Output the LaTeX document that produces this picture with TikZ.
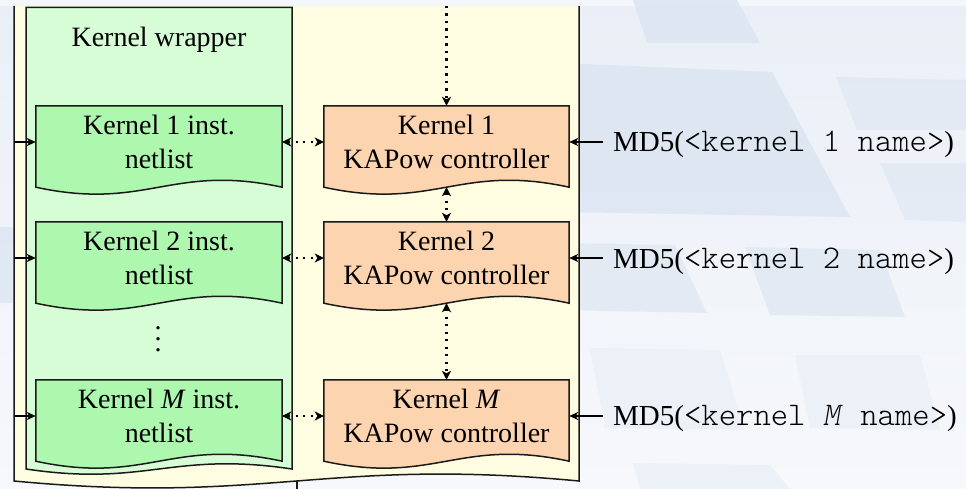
\documentclass[tikz,border=0pt]{standalone}
\usepackage{fontspec}
\setmainfont{Liberation Serif}
\setmonofont{lmmonolt10-regular.otf}[Scale=1.14, ItalicFont=lmmonolt10-oblique.otf]
\usetikzlibrary{arrows.meta,calc}

\pgfdeclarelayer{slide}
\pgfdeclarelayer{frame}
\pgfdeclarelayer{boxes}
\pgfsetlayers{slide,frame,boxes,main}

\definecolor{slidetop}{HTML}{EAEFF7}
\definecolor{slidebot}{HTML}{F6F8FB}
\definecolor{slideband}{HTML}{DCE5F2}
\definecolor{cream}{HTML}{FFFDE1}
\definecolor{wrapgreen}{HTML}{D7FDD7}
\definecolor{netgreen}{HTML}{AEF7AE}
\definecolor{peach}{HTML}{FDD4B0}
\definecolor{edge}{HTML}{1A1A1A}

% document-style box: flat top, wavy bottom hanging #3 below the node
\newcommand\docshape[4]{%
  \path[shapeline, fill=#2] let \p1=(#1.south west), \p2=(#1.north east) in
    (\x1,\y2) -- (\x2,\y2) -- (\x2,{\y1-#3})
    .. controls ({\x1+0.55*(\x2-\x1)},{\y1-#3+#4}) and ({\x1+0.45*(\x2-\x1)},{\y1-#3-#4})
    .. (\x1,{\y1-#3}) -- cycle;}

\begin{document}
\begin{tikzpicture}[x=1pt,y=-1pt,
  font=\fontsize{28}{34}\selectfont,
  shapeline/.style={draw=edge, line width=1.5pt, line join=miter},
  netbox/.style={align=center, minimum width=246, minimum height=72, inner sep=0pt},
  ctlbox/.style={align=center, minimum width=245, minimum height=72, inner sep=0pt},
  md5/.style={font=\fontsize{29}{34}\selectfont, inner xsep=10pt, inner ysep=0pt, anchor=base west},
  feed/.style={line width=1.6pt, draw=black, -{Stealth[length=9pt,width=8pt,inset=2.5pt]}},
  link/.style={line width=2.1pt, dash pattern=on 2.1pt off 5.4pt,
    {Stealth[length=9pt,width=9pt,inset=2.5pt]}-{Stealth[length=9pt,width=9pt,inset=2.5pt]}},
  linkin/.style={line width=2.1pt, dash pattern=on 2.1pt off 5.4pt,
    -{Stealth[length=9pt,width=9pt,inset=2.5pt]}},
]
\useasboundingbox (0,0) rectangle (966,489);

% slide backdrop with faint slanted panels
\begin{pgfonlayer}{slide}
  \shade[top color=slidetop, bottom color=slidebot] (0,0) rectangle (966,489);
  \fill[white, opacity=0.45] (0,0) rectangle (966,6);
  \fill[slideband, opacity=0.85] (633,0) -- (737,0) -- (760,43) -- (647,43) -- cycle;
  \fill[slideband, opacity=0.85] (560,63) -- (772,72) -- (850,217) -- (560,212) -- cycle;
  \fill[slideband, opacity=0.55] (836,77) -- (966,80) -- (966,130) -- (857,130) -- cycle;
  \fill[slideband, opacity=0.55] (880,163) -- (966,163) -- (966,222) -- (905,220) -- cycle;
  \fill[slideband, opacity=0.65] (560,243) -- (675,245) -- (707,313) -- (560,310) -- cycle;
  \fill[slideband, opacity=0.65] (745,247) -- (880,250) -- (905,317) -- (770,315) -- cycle;
  \fill[slideband, opacity=0.3] (590,348) -- (720,350) -- (745,430) -- (605,428) -- cycle;
  \fill[slideband, opacity=0.3] (795,355) -- (920,355) -- (940,430) -- (810,428) -- cycle;
  \fill[slideband, opacity=0.35] (633,463) -- (770,465) -- (790,489) -- (640,489) -- cycle;
  \fill[slideband, opacity=0.8] (0,227) -- (14,227) -- (14,303) -- (0,303) -- cycle;
\end{pgfonlayer}

% outer block and kernel wrapper
\begin{pgfonlayer}{frame}
  \fill[cream] (14,6) -- (14,481) .. controls (268,505) and (325,457) .. (579,481) -- (579,6) -- cycle;
  \draw[shapeline] (14,6) -- (14,481) .. controls (268,505) and (325,457) .. (579,481) -- (579,6);
  \draw[shapeline, fill=wrapgreen] (26,7.5) -- (292,7.5) -- (292,469)
    .. controls (172,451) and (146,487) .. (26,469) -- cycle;
\end{pgfonlayer}

\coordinate (wl) at (14,0);
\coordinate (topin) at (446.5,6);
\coordinate (outbot) at (297,481);
\coordinate (outend) at (297,495);

\node[anchor=base] (wraplabel) at (159,47) {Kernel wrapper};

% kernel instance netlists
\node[netbox] (n1) at (159,142) {Kernel 1 inst.\\netlist};
\node[netbox] (n2) at (159,258) {Kernel 2 inst.\\netlist};
\node[netbox] (nM) at (159,416) {Kernel \textit{M} inst.\\netlist};
\node[align=center, inner sep=0pt, font=\fontsize{28}{11}\selectfont] (ndots) at (158,339) {.\\.\\.};

% KAPow controllers
\node[ctlbox] (c1) at (446.5,142) {Kernel 1\\KAPow controller};
\node[ctlbox] (c2) at (446.5,258) {Kernel 2\\KAPow controller};
\node[ctlbox] (cM) at (446.5,416) {Kernel \textit{M}\\KAPow controller};

\begin{pgfonlayer}{boxes}
  \docshape{n1}{netgreen}{9pt}{24pt}
  \docshape{n2}{netgreen}{9pt}{24pt}
  \docshape{nM}{netgreen}{9pt}{24pt}
  \docshape{c1}{peach}{9pt}{24pt}
  \docshape{c2}{peach}{9pt}{24pt}
  \docshape{cM}{peach}{9pt}{24pt}
\end{pgfonlayer}

% hashed kernel names
\node[md5] (h1) at (603,151.5) {MD5(\texttt{<kernel 1 name>})};
\node[md5] (h2) at (603,268) {MD5(\texttt{<kernel 2 name>})};
\node[md5] (hM) at (603,425.5) {MD5(\texttt{<kernel \textit{M} name>})};

% inputs into the netlists
\draw[feed] (wl |- n1.west) -- (n1.west);
\draw[feed] (wl |- n2.west) -- (n2.west);
\draw[feed] (wl |- nM.west) -- (nM.west);

% hash inputs into the controllers
\draw[feed] (h1.west |- c1.east) -- (c1.east);
\draw[feed] (h2.west |- c2.east) -- (c2.east);
\draw[feed] (hM.west |- cM.east) -- (cM.east);

% netlist <-> controller links
\draw[link] (n1.east) -- (c1.west);
\draw[link] (n2.east) -- (c2.west);
\draw[link] (nM.east) -- (cM.west);

% controller chain
\draw[linkin] (topin) -- (c1.north);
\draw[link] ($(c1.south)+(0,9)$) -- (c2.north);
\draw[link] ($(c2.south)+(0,9)$) -- (cM.north);

% line leaving the block at the bottom
\draw[shapeline] (outbot) -- (outend);
\end{tikzpicture}
\end{document}
